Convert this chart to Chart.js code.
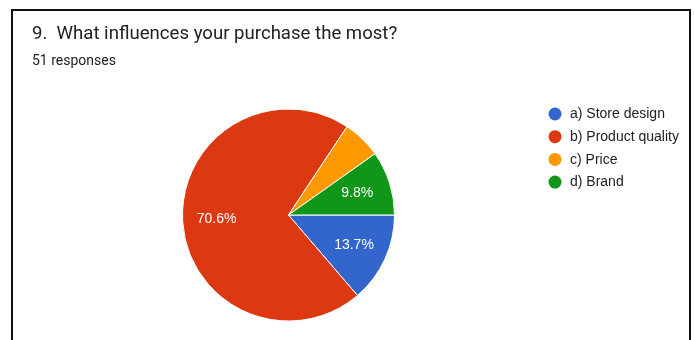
<!DOCTYPE html>
<html lang="en">
<head>
    <meta charset="UTF-8">
    <title>What influences your purchase the most?</title>
    <script src="https://cdn.jsdelivr.net/npm/chart.js"></script>
    <style>
        body { margin: 0; background: #fff; }
        #frame {
            position: absolute; left: 11px; top: 9px;
            width: 680px; height: 400px; box-sizing: border-box;
            border: 2px solid #111; border-bottom: none;
        }
        #pieChart { position: absolute; left: 0; top: 0; }
    </style>
</head>
<body>
    <div id="frame"></div>
    <canvas id="pieChart" width="694" height="340"></canvas>
    <script>
        const questionTitle = '9.  What influences your purchase the most?';
        const responseCount = 51;
        const answers = ['a) Store design', 'b) Product quality', 'c) Price', 'd) Brand'];
        const answerCounts = [7, 36, 3, 5];
        const answerColors = ['#3366cc', '#dc3912', '#ff9900', '#109618'];

        // text overlay: heading, legend and percentage labels on the slices
        const formsText = {
            id: 'formsText',
            afterDraw(chart) {
                const ctx = chart.ctx;
                ctx.save();
                ctx.textBaseline = 'alphabetic';
                ctx.textAlign = 'left';
                ctx.fillStyle = '#202124';
                ctx.font = '18.6px Roboto';
                ctx.fillText(questionTitle, 32, 39);
                ctx.font = '14px Roboto';
                ctx.fillText(responseCount + ' responses', 32, 65);

                // legend
                ctx.font = '14px "Liberation Sans", Arial';
                chart.data.labels.forEach((label, i) => {
                    const y = 114 + i * 22.7;
                    ctx.fillStyle = answerColors[i];
                    ctx.beginPath();
                    ctx.arc(555, y, 6.5, 0, Math.PI * 2);
                    ctx.fill();
                    ctx.fillStyle = '#222';
                    ctx.textBaseline = 'middle';
                    ctx.fillText(label, 570, y + 0.5);
                });

                // percentages inside slices, small slices left blank
                const total = answerCounts.reduce((a, b) => a + b, 0);
                const arcs = chart.getDatasetMeta(0).data;
                ctx.fillStyle = '#fff';
                ctx.textAlign = 'center';
                ctx.textBaseline = 'middle';
                ctx.font = '14px "Liberation Sans", Arial';
                arcs.forEach((arc, i) => {
                    const share = answerCounts[i] / total;
                    if (share < 0.08) return;
                    const mid = (arc.startAngle + arc.endAngle) / 2;
                    const dist = arc.outerRadius * 0.68;
                    const text = (share * 100).toFixed(1) + '%';
                    ctx.fillText(text, arc.x + Math.cos(mid) * dist, arc.y + Math.sin(mid) * dist);
                });
                ctx.restore();
            }
        };

        new Chart(document.getElementById('pieChart'), {
            type: 'pie',
            data: {
                labels: answers,
                datasets: [{
                    data: answerCounts,
                    backgroundColor: answerColors,
                    borderColor: '#fff',
                    borderWidth: 1
                }]
            },
            options: {
                responsive: false,
                animation: false,
                rotation: 90,
                layout: { padding: { left: 182, top: 108, right: 299, bottom: 18 } },
                plugins: {
                    legend: { display: false },
                    tooltip: { enabled: false }
                }
            },
            plugins: [formsText]
        });
    </script>
</body>
</html>
